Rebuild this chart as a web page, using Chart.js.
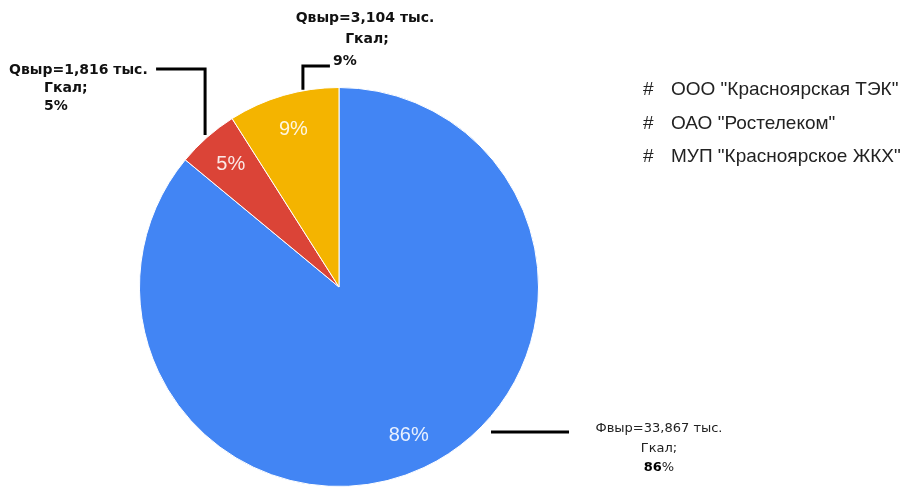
<!DOCTYPE html>
<html>
<head>
<meta charset="utf-8">
<script src="https://cdn.jsdelivr.net/npm/chart.js@4"></script>
<style>
  html, body { margin: 0; padding: 0; background: #fff; }
  #wrap { width: 903px; height: 488px; }
</style>
</head>
<body>
<div id="wrap"><canvas id="c" width="903" height="488"></canvas></div>
<script>
const categories = ['ООО "Красноярская ТЭК"', 'ОАО "Ростелеком"', 'МУП "Красноярское ЖКХ"'];
const shares = [86, 5, 9];
const volumes = ['33,867', '1,816', '3,104'];
const sliceLabels = ['86%', '5%', '9%'];
const sliceColors = ['#4285F4', '#DB4437', '#F4B400'];

const annotPlugin = {
  id: 'annot',
  afterDatasetsDraw(chart) {
    const ctx = chart.ctx;
    const arcs = chart.getDatasetMeta(0).data;
    const cx = arcs[0].x, cy = arcs[0].y, R = arcs[0].outerRadius;
    ctx.save();
    // inside labels
    ctx.font = '20px "Liberation Sans", Arial, sans-serif';
    ctx.fillStyle = 'rgba(255,255,255,0.88)';
    ctx.textAlign = 'center';
    ctx.textBaseline = 'middle';
    arcs.forEach((a, i) => {
      const mid = (a.startAngle + a.endAngle) / 2;
      const r = 0.82 * a.outerRadius;
      ctx.fillText(sliceLabels[i], cx + r * Math.cos(mid), cy + r * Math.sin(mid));
    });

    const boldFont = 'bold 14px "DejaVu Sans", sans-serif';
    ctx.strokeStyle = '#000';
    ctx.lineWidth = 3;
    // red slice callout
    {
      const a = arcs[1];
      const mid = (a.startAngle + a.endAngle) / 2;
      const x0 = cx + (R + 3) * Math.cos(mid), y0 = cy + (R + 3) * Math.sin(mid);
      const yE = cy - 218;
      ctx.beginPath();
      ctx.moveTo(x0, y0); ctx.lineTo(x0, yE); ctx.lineTo(x0 - 49, yE);
      ctx.stroke();
      ctx.fillStyle = '#111';
      ctx.font = boldFont;
      ctx.textAlign = 'left';
      ctx.fillText('Qвыр=' + volumes[1] + ' тыс.', 9, yE + 1);
      ctx.fillText('Гкал;', 44, yE + 19);
      ctx.fillText(shares[1] + '%', 44, yE + 37);
    }
    // yellow slice callout
    {
      const a = arcs[2];
      const ang = a.startAngle + 0.68 * (a.endAngle - a.startAngle);
      const x0 = cx + (R + 1) * Math.cos(ang), y0 = cy + (R + 1) * Math.sin(ang);
      const yE = cy - 221;
      ctx.beginPath();
      ctx.moveTo(x0, y0); ctx.lineTo(x0, yE); ctx.lineTo(x0 + 27, yE);
      ctx.stroke();
      ctx.fillStyle = '#111';
      ctx.font = boldFont;
      ctx.textAlign = 'center';
      ctx.fillText('Qвыр=' + volumes[2] + ' тыс.', 365, 18);
      ctx.fillText('Гкал;', 367, 39);
      ctx.textAlign = 'left';
      ctx.fillText(shares[2] + '%', 333, 61);
    }
    // blue slice callout
    {
      const dy = 145;
      const yL = cy + dy;
      const xs = cx + Math.sqrt(R * R - dy * dy) + 15;
      ctx.beginPath();
      ctx.moveTo(xs, yL); ctx.lineTo(xs + 78, yL);
      ctx.stroke();
      ctx.fillStyle = '#222';
      ctx.textAlign = 'center';
      ctx.font = '13px "DejaVu Sans", sans-serif';
      ctx.fillText('Фвыр=' + volumes[0] + ' тыс.', 659, 429);
      ctx.fillText('Гкал;', 659, 449);
      const num = String(shares[0]);
      ctx.font = 'bold 13px "DejaVu Sans", sans-serif';
      const w1 = ctx.measureText(num).width;
      ctx.font = '13px "DejaVu Sans", sans-serif';
      const w2 = ctx.measureText('%').width;
      const x0 = 659 - (w1 + w2) / 2;
      ctx.textAlign = 'left';
      ctx.font = 'bold 13px "DejaVu Sans", sans-serif';
      ctx.fillStyle = '#000';
      ctx.fillText(num, x0, 468);
      ctx.font = '13px "DejaVu Sans", sans-serif';
      ctx.fillStyle = '#222';
      ctx.fillText('%', x0 + w1, 468);
    }
    // legend
    ctx.font = '19px "Liberation Sans", Arial, sans-serif';
    ctx.fillStyle = '#222';
    ctx.textAlign = 'left';
    ctx.textBaseline = 'middle';
    chart.data.labels.forEach((lab, i) => {
      const y = 90 + i * 33.5;
      ctx.fillText('#', 643, y);
      ctx.fillText(lab, 671, y);
    });
    ctx.restore();
  }
};

new Chart(document.getElementById('c'), {
  type: 'pie',
  data: {
    labels: categories,
    datasets: [{
      data: shares,
      backgroundColor: sliceColors,
      borderColor: '#ffffff',
      borderWidth: 1
    }]
  },
  options: {
    responsive: false,
    animation: false,
    layout: { padding: { left: 139, right: 364, top: 87, bottom: 1 } },
    plugins: {
      legend: { display: false },
      tooltip: { enabled: false }
    }
  },
  plugins: [annotPlugin]
});
</script>
</body>
</html>
